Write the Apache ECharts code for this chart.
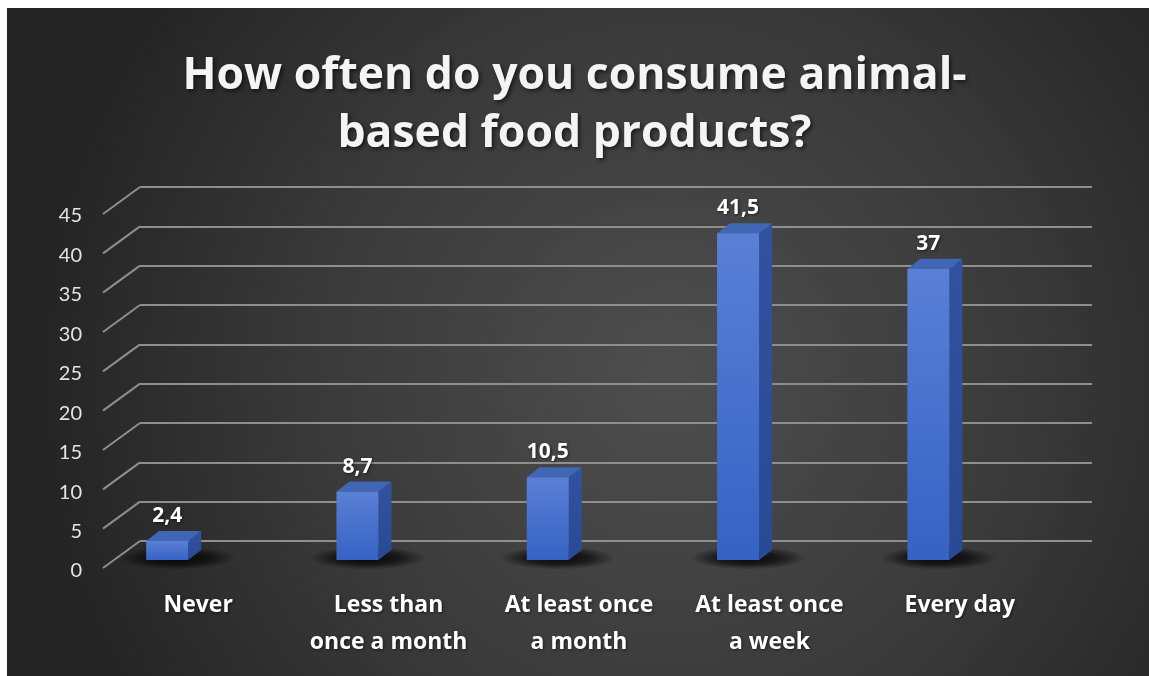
<!DOCTYPE html>
<html>
<head>
<meta charset="utf-8">
<script src="https://cdn.jsdelivr.net/npm/echarts@6/dist/echarts.min.js"></script>
<style>
  html, body { margin: 0; padding: 0; background: #ffffff; }
  #chart { width: 1149px; height: 676px; }
</style>
</head>
<body>
<div id="chart"></div>
<script>
// Survey answers and their shares (%)
const categories = [
  'Never',
  'Less than\nonce a month',
  'At least once\na month',
  'At least once\na week',
  'Every day'
];
const shares = [2.4, 8.7, 10.5, 41.5, 37];
const yTicks = [0, 5, 10, 15, 20, 25, 30, 35, 40, 45];
const yMin = 0;
const yMax = 45;
const yStep = 5;

// Oblique depth of the 3D floor and of each column
const FLOOR_DX = -37, FLOOR_DY = 27;
const BAR_DX = 13, BAR_DY = -10;
const BAR_HALF = 21;

const chart = echarts.init(document.getElementById('chart'), null, { renderer: 'canvas' });

const textShadow = {
  textShadowColor: 'rgba(0,0,0,0.55)', textShadowBlur: 3, textShadowOffsetX: 1, textShadowOffsetY: 1
};

const valueAxis = (gridIndex, showLabels) => ({
  type: 'value', gridIndex, min: yMin, max: yMax, interval: yStep,
  axisLine: { show: false }, axisTick: { show: false },
  splitLine: { show: gridIndex === 0, lineStyle: { color: '#8e8e8e', width: 2 } },
  axisLabel: showLabels ? {
    show: true, margin: 21, color: '#e4e4e4',
    fontFamily: 'Lato', fontSize: 20
  } : { show: false }
});

const catAxis = (gridIndex, showLabels) => ({
  type: 'category', gridIndex, data: categories,
  axisLine: { show: false }, axisTick: { show: false },
  splitLine: { show: false },
  axisLabel: showLabels ? Object.assign({
    show: true, interval: 0, margin: 16, color: '#ffffff',
    fontFamily: 'Open Sans', fontWeight: 'bold', fontSize: 23, lineHeight: 37
  }, textShadow) : { show: false }
});

function renderDiagonal(params, api) {
  const y = api.coord([0, api.value(1)])[1];
  const x = params.coordSys.x;
  return {
    type: 'line',
    shape: { x1: x, y1: y, x2: x + FLOOR_DX, y2: y + FLOOR_DY },
    style: { stroke: '#8e8e8e', lineWidth: 2 }
  };
}

function renderColumn(params, api) {
  const i = api.value(0);
  const v = api.value(1);
  const base = api.coord([i, 0]);
  const top = api.coord([i, v]);
  const cx = base[0];
  const yb = base[1];
  const yt = top[1];
  const xl = cx - BAR_HALF, xr = cx + BAR_HALF;
  const label = String(shares[params.dataIndex]).replace('.', ',');
  return {
    type: 'group',
    children: [
      {
        type: 'circle',
        shape: { cx: 0, cy: 0, r: 58 },
        x: cx + 10, y: yb - 2, scaleY: 0.2,
        style: {
          fill: {
            type: 'radial', x: 0.5, y: 0.5, r: 0.5,
            colorStops: [
              { offset: 0, color: 'rgba(0,0,0,0.9)' },
              { offset: 0.55, color: 'rgba(0,0,0,0.6)' },
              { offset: 1, color: 'rgba(0,0,0,0)' }
            ]
          }
        }
      },
      {
        type: 'polygon',
        shape: { points: [[xr, yt], [xr + BAR_DX, yt + BAR_DY], [xr + BAR_DX, yb + BAR_DY], [xr, yb]] },
        style: {
          fill: { type: 'linear', x: 0, y: 0, x2: 0, y2: 1,
            colorStops: [{ offset: 0, color: '#31539f' }, { offset: 1, color: '#284a94' }] }
        }
      },
      {
        type: 'polygon',
        shape: { points: [[xl, yt], [xl + BAR_DX, yt + BAR_DY], [xr + BAR_DX, yt + BAR_DY], [xr, yt]] },
        style: { fill: '#4266b6' }
      },
      {
        type: 'rect',
        shape: { x: xl, y: yt, width: xr - xl, height: yb - yt },
        style: {
          fill: { type: 'linear', x: 0, y: 0, x2: 0, y2: 1,
            colorStops: [{ offset: 0, color: '#5a80d6' }, { offset: 1, color: '#3562c4' }] }
        }
      },
      {
        type: 'text',
        x: cx, y: yt + BAR_DY - 15,
        style: Object.assign({
          text: label, align: 'center', verticalAlign: 'middle',
          fill: '#ffffff', fontFamily: 'Open Sans', fontWeight: 'bold', fontSize: 21
        }, textShadow)
      }
    ]
  };
}

const option = {
  animation: false,
  backgroundColor: 'transparent',
  graphic: [{
    type: 'rect', z: -100, silent: true,
    shape: { x: 7, y: 8, width: 1142, height: 668 },
    style: {
      fill: {
        type: 'radial', x: 0.58, y: 0.55, r: 0.95,
        colorStops: [
          { offset: 0, color: '#4e4e4e' },
          { offset: 0.55, color: '#3a3a3a' },
          { offset: 1, color: '#242424' }
        ]
      }
    }
  }],
  title: {
    text: 'How often do you consume animal-\nbased food products?',
    left: 'center', top: 42,
    textStyle: {
      color: '#f4f4f4', fontFamily: 'Open Sans', fontWeight: 'bold', fontSize: 44.5, lineHeight: 58,
      textShadowColor: 'rgba(0,0,0,0.6)', textShadowBlur: 4, textShadowOffsetX: 2, textShadowOffsetY: 2
    }
  },
  grid: [
    { left: 140, right: 57, top: 187, bottom: 135 },   // back wall
    { left: 72, right: 125.5, top: 205.8, bottom: 116 }, // column front plane
    { left: 103, right: 94, top: 216, bottom: 105 }    // floor front edge
  ],
  xAxis: [catAxis(0, false), catAxis(1, false), catAxis(2, true)],
  yAxis: [valueAxis(0, false), valueAxis(1, false), valueAxis(2, true)],
  series: [
    {
      type: 'custom', xAxisIndex: 0, yAxisIndex: 0, clip: false, silent: true,
      renderItem: renderDiagonal,
      data: yTicks.map(v => [0, v])
    },
    {
      type: 'custom', xAxisIndex: 1, yAxisIndex: 1, clip: false, silent: true,
      renderItem: renderColumn,
      data: shares.map((v, i) => [i, v])
    }
  ]
};

chart.setOption(option);
</script>
</body>
</html>
